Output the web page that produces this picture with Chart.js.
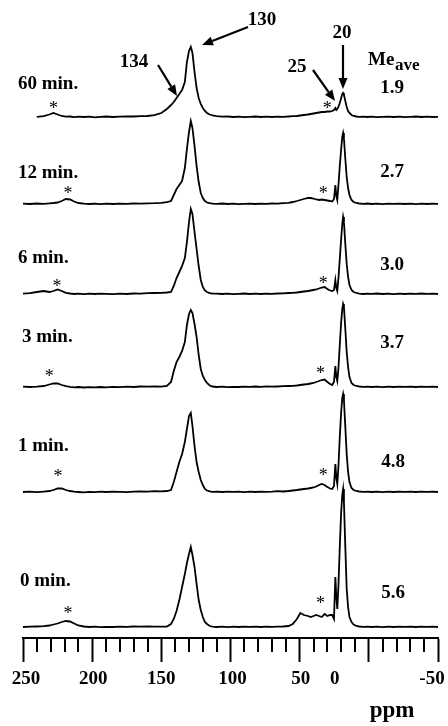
<!DOCTYPE html>
<html>
<head>
<meta charset="utf-8">
<script src="https://cdn.jsdelivr.net/npm/chart.js@4.4.1/dist/chart.umd.min.js"></script>
<style>
  html, body { margin: 0; padding: 0; background: #fff; }
  canvas { display: block; }
</style>
</head>
<body>
<canvas id="c" width="448" height="726" style="width:448px;height:726px"></canvas>
<script>
// ---------- DATA ----------
const ppm = [250,245,240,235,231,228,225,222,219,216,
  213,210,206,202,198,194,190,185,180,175,
  170,165,160,155,150,146,143,141,139,137,
  135,133,131.5,130,128.7,127.5,126,124.5,123,121.5,
  120,118.5,117,115,113,110,106,102,98,94,
  90,86,82,78,74,70,66,62,58,55,
  52,49.5,47,44,42,40,38,36,34,32,
  30,28,26.5,25.2,24.2,23.5,22.8,22,21,20,
  19.2,18.6,18,17,16,15,14,12.5,11,9,
  7,4,1,-2,-6,-10,-14,-18,-22,-26,
  -30,-34,-38,-42,-46,-50];

const spec60 = [null,null,0.2,0.8,2.5,4,2.5,1,0.3,0.5,
  -0.2,0.3,0,0.4,-0.3,0.2,0.5,0,0.3,0.6,
  0.5,0.8,1,1.8,4,8,12,15,19,23,
  27,35,55,66,70,64,45,29,19,13,
  9,6,4,2.5,1.5,0.8,0.3,0.5,0,0.3,
  -0.2,0.2,0.5,0,0.3,0,0.4,0.2,0.5,0.8,
  1,1.5,2,2.5,3,3.5,4,4.5,5,5,
  5.5,5.5,6,7,9,7,8,10,14,19,
  23,24,22,16,10,6,4,2,1,0.5,
  0.2,0.4,0,0.3,-0.2,0.2,0.4,0,0.3,-0.2,
  0.2,0.5,0,0.3,0,0.2];

const spec12 = [0.3,0,0.5,0.2,0.6,1,1.5,3,5,4.5,
  2.5,1,0.3,0,0.4,-0.2,0.3,0,0.4,0.2,
  0.5,0.3,0.6,0.8,1.2,1.8,3,9,15,19,
  23,36,55,72,83,76,58,38,22,11,
  6,3,1.5,0.8,0.3,0.2,0.5,0,0.3,-0.2,
  0.2,0.4,0,0.3,0.1,0.5,0.3,0.8,1.2,2,
  3,4,5,6,6,5.5,4.5,4,4.5,4,
  3.5,3,2.5,5,19,8,4,18,38,55,
  67,71,66,45,27,16,9,4,2,1,
  0.5,0.2,0.5,0,0.3,-0.2,0.3,0.1,0.4,0,
  0.3,-0.1,0.3,0,0.4,0.2];

const spec6 = [0.3,0.8,2,3,2,3,4.5,3,1.2,0.5,
  0,0.4,-0.2,0.3,0,0.4,0.2,-0.2,0.3,0,
  0.5,0.3,0.8,1,1.2,1.5,2,8,16,22,
  28,36,52,72,85,80,62,45,28,14,
  7,3.5,2,0.8,0.3,0.4,0,0.3,-0.2,0.2,
  0.5,0,0.3,0,0.4,0.2,0.5,0.6,1,1.2,
  1.5,2,2.5,3,3.5,4,4.5,5.5,6.5,7,
  5,3.5,3,4,14,6,3,15,35,55,
  70,77,72,50,30,17,9,4,2,1,
  0.4,0,0.4,0.1,0.5,0,0.3,-0.2,0.3,0,
  0.4,0.1,0.5,0.2,0.3,0];

const spec3 = [0.3,0,0.4,1,2.5,3.5,3.5,2,0.8,0.2,
  -0.3,0,-0.5,-0.2,-0.4,0,-0.3,0.2,-0.2,0.3,
  0,0.5,0.3,0.6,0.4,1,5,16,25,30,
  36,45,62,73,77,74,63,50,32,18,
  11,7,4,1.5,0.5,0,0.3,-0.2,0.2,0,
  0.4,0.1,0.5,0.2,0.6,0.3,0.5,0.8,1,1.2,
  1.5,2,2.5,3,3.5,4,5,6,7,7.5,
  5,3,2,5,21,10,6,18,42,65,
  78,83,80,58,35,20,10,4,2,1,
  0.5,0.2,0.4,0,0.3,-0.2,0.3,0,0.4,0.1,
  0.3,0,0.4,0.2,0.3,0];

const spec1 = [0,0.3,-0.2,0.4,1,2,3.5,3.5,2,1,
  0.3,0,-0.3,0.2,-0.2,0.3,0,0.4,0.1,-0.2,
  0.3,0.5,0.4,0.8,0.6,1,2,10,20,30,
  38,50,63,76,79,66,46,30,20,12,
  7,3,1.5,0.6,0.2,0.3,0,0.4,0.1,0.3,
  -0.1,0.3,0,0.4,0.2,0.3,0.8,0.5,1,1.5,
  2,2.5,3,3.5,4,4.5,5.5,7,8,7,
  5,3.5,3,6,28,14,8,25,55,80,
  94,98,92,65,38,20,10,4,2,1,
  0.5,0.2,0.4,0,0.3,-0.2,0.3,0,0.4,0.1,
  0.3,0,0.4,0.2,0.3,0];

const spec0 = [0,0.3,0.5,0.8,1.5,2.5,3.5,5,6,5.5,
  3.5,1.5,0.5,0,0.3,-0.2,0.2,0,0.4,0.1,
  0.5,0.3,0.6,0.4,0.3,0.5,3,8,16,27,
  40,53,64,73,80,72,60,43,27,17,
  10,5,3,1,0.3,0,0.3,-0.2,0.3,0,
  0.4,0.1,0.3,0,0.4,0.2,0.3,0.5,1,3,
  8,14,12,11,10,11,12,11,10,13,
  11,12,12,8,50,30,18,40,80,115,
  132,138,125,80,38,20,10,5,2.5,1,
  0.5,0.2,0.4,0,0.3,-0.2,0.3,0,0.4,0.1,
  0.3,0,0.4,0.2,0.3,0];

const timeLabels = ['60 min.', '12 min.', '6 min.', '3 min.', '1 min.', '0 min.'];
const meAveValues = ['1.9', '2.7', '3.0', '3.7', '4.8', '5.6'];
const tickLabels = [250, 200, 150, 100, 50, 0, -50];
// spinning sidebands marked "*": [ppm, height above the trace baseline]
const sidebandMarks = [
  [[228, 12], [30, 12]],
  [[217.5, 14], [33, 14]],
  [[225.4, 11], [33, 14]],
  [[231, 14], [35, 17]],
  [[224.7, 19], [33, 20]],
  [[217.5, 17], [35, 27]]
];
const peakLabels = ['130', '134', '25', '20'];

// ---------- LAYOUT (not data) ----------
const spectra = [spec60, spec12, spec6, spec3, spec1, spec0];
const baseOffsets = [521, 434, 344, 251, 146, 11];
const timeLabelPos = [[18, 84], [18, 173], [18, 258], [22, 337], [18, 446], [20, 581]];
const meAvePos = [[392, 88], [392, 172], [392, 265], [392, 343], [393, 462], [393, 593]];
const tickLabelShift = [3, 1, 0, 2, 1, -34, -6];
const peakLabelPos = [[262, 20], [134, 62], [297, 67], [342, 33]];
const arrows = [[248, 27, 202, 45], [158, 65, 177, 96], [313, 70, 335, 101], [343, 45, 343, 89]];

const SERIF = '"Liberation Serif", "Times New Roman", serif';

const datasets = spectra.map((s, k) => ({
  label: timeLabels[k],
  data: ppm.map((x, i) => ({ x: x, y: s[i] === null ? null : s[i] + baseOffsets[k] })),
  borderColor: '#000',
  borderWidth: 1.8,
  pointRadius: 0,
  tension: 0,
  fill: false,
  spanGaps: false
}));

function drawArrow(ctx, x1, y1, x2, y2) {
  const ang = Math.atan2(y2 - y1, x2 - x1);
  const hl = 11, hw = 4.5;
  const bx = x2 - hl * Math.cos(ang), by = y2 - hl * Math.sin(ang);
  ctx.beginPath();
  ctx.moveTo(x1, y1);
  ctx.lineTo(bx, by);
  ctx.lineWidth = 2.2;
  ctx.stroke();
  ctx.beginPath();
  ctx.moveTo(x2, y2);
  ctx.lineTo(bx + hw * Math.sin(ang), by - hw * Math.cos(ang));
  ctx.lineTo(bx - hw * Math.sin(ang), by + hw * Math.cos(ang));
  ctx.closePath();
  ctx.fill();
}

const overlay = {
  id: 'overlay',
  afterDraw(chart) {
    const ctx = chart.ctx;
    const xs = chart.scales.x, ys = chart.scales.y;
    const axisY = chart.chartArea.bottom;
    ctx.save();
    ctx.strokeStyle = '#000';
    ctx.fillStyle = '#000';
    // minor ticks
    ctx.lineWidth = 2;
    xs.ticks.forEach(t => {
      if (Math.abs(t.value % 50) > 1e-6) {
        const x = Math.round(xs.getPixelForValue(t.value));
        ctx.beginPath();
        ctx.moveTo(x, axisY);
        ctx.lineTo(x, axisY + 14);
        ctx.stroke();
      }
    });
    // tick labels
    ctx.font = 'bold 19px ' + SERIF;
    ctx.textAlign = 'center';
    ctx.textBaseline = 'middle';
    tickLabels.forEach((v, i) => {
      ctx.fillText(String(v), xs.getPixelForValue(v) + tickLabelShift[i], axisY + 41);
    });
    // axis unit
    ctx.font = 'bold 23px ' + SERIF;
    ctx.fillText('ppm', 392, 711);
    // time labels
    ctx.font = 'bold 19px ' + SERIF;
    ctx.textAlign = 'left';
    timeLabels.forEach((t, i) => ctx.fillText(t, timeLabelPos[i][0], timeLabelPos[i][1]));
    // Me_ave values
    ctx.textAlign = 'center';
    meAveValues.forEach((t, i) => ctx.fillText(t, meAvePos[i][0], meAvePos[i][1]));
    // Me_ave header
    ctx.textAlign = 'left';
    ctx.fillText('Me', 368, 60);
    ctx.font = 'bold 17px ' + SERIF;
    ctx.fillText('ave', 395, 66);
    // peak labels
    ctx.font = 'bold 19px ' + SERIF;
    ctx.textAlign = 'center';
    peakLabels.forEach((t, i) => ctx.fillText(t, peakLabelPos[i][0], peakLabelPos[i][1]));
    // arrows
    arrows.forEach(a => drawArrow(ctx, a[0], a[1], a[2], a[3]));
    // sideband asterisks
    ctx.font = '18px ' + SERIF;
    ctx.textAlign = 'center';
    ctx.textBaseline = 'alphabetic';
    sidebandMarks.forEach((marks, k) => {
      marks.forEach(m => {
        const x = xs.getPixelForValue(m[0]);
        const y = ys.getPixelForValue(m[1] + baseOffsets[k]);
        ctx.fillText('*', x, y + 9);
      });
    });
    ctx.restore();
  }
};

new Chart(document.getElementById('c'), {
  type: 'line',
  data: { datasets: datasets },
  options: {
    responsive: false,
    animation: false,
    devicePixelRatio: 1,
    layout: { padding: { left: 23, right: 10, top: 0, bottom: 64 } },
    plugins: { legend: { display: false }, tooltip: { enabled: false } },
    scales: {
      x: {
        type: 'linear',
        reverse: true,
        min: -50,
        max: 250,
        position: 'bottom',
        ticks: { display: false, stepSize: 10, autoSkip: false },
        grid: {
          drawOnChartArea: false,
          drawTicks: true,
          tickLength: 24,
          tickWidth: 2,
          tickColor: (c) => (c.tick && Math.abs(c.tick.value % 50) < 1e-6) ? '#000' : 'rgba(0,0,0,0)'
        },
        border: { display: true, color: '#000', width: 2 }
      },
      y: {
        type: 'linear',
        display: false,
        min: 0,
        max: 638
      }
    }
  },
  plugins: [overlay]
});
</script>
</body>
</html>
